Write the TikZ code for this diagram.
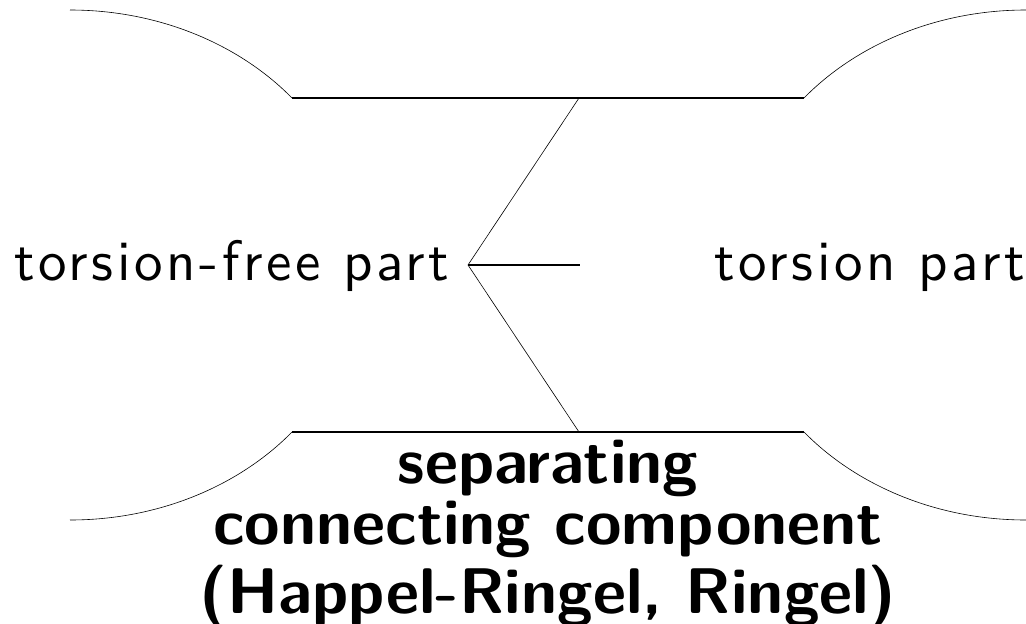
\documentclass[tikz,border=0pt]{standalone}
\usepackage{fontspec}
% spaced sans for the two region labels
\newfontfamily\spacedsans{lmsans10-regular}[Extension=.otf, LetterSpace=6.3]
\begin{document}
\begin{tikzpicture}[x=1pt,y=-1pt,
  label text/.style={font=\spacedsans\fontsize{10}{9.5}\selectfont,
    scale=5.7, transform shape, inner sep=0pt},
  bold text/.style={font=\sffamily\bfseries\fontsize{10}{9.45}\selectfont,
    scale=6.45, transform shape, inner sep=0pt, align=center},
  rim/.style={line width=0.6pt},
  thick rim/.style={line width=2.4pt},
  medium rim/.style={line width=1.6pt}]
\useasboundingbox (0,0) rectangle (1026,624);

% region labels
\node[label text, anchor=base west] (tf) at (13,280) {torsion-free part};
\node[label text, anchor=base west] (tp) at (713,280) {torsion part};
\node[bold text, anchor=base] (sep) at (548,613)
  {separating\\connecting component\\(Happel-Ringel, Ringel)};

% corner points of the two horizontal bars
\coordinate (tl) at (292,98);
\coordinate (tr) at (804,98);
\coordinate (bl) at (292,432);
\coordinate (br) at (804,432);
% outer ends of the four arcs
\coordinate (otl) at (70,10);
\coordinate (otr) at (1026,10);
\coordinate (obl) at (70,520);
\coordinate (obr) at (1026,520);
% zigzag points
\coordinate (zt) at (579,98);
\coordinate (za) at (468,265);
\coordinate (zb) at (579,432);
\coordinate (zm) at (580,265);

% bars
\draw[thick rim] (tl) -- (tr);
\draw[medium rim] (bl) -- (br);

% arcs
\draw[rim] (otl) .. controls (160,10) and (240,45) .. (tl);
\draw[rim] (tr) .. controls (856,45) and (936,10) .. (otr);
\draw[rim] (bl) .. controls (240,485) and (160,520) .. (obl);
\draw[rim] (br) .. controls (856,485) and (936,520) .. (obr);

% zigzag
\draw[rim] (zt) -- (za) -- (zb);
\draw[medium rim] (za) -- (zm);
\end{tikzpicture}
\end{document}
